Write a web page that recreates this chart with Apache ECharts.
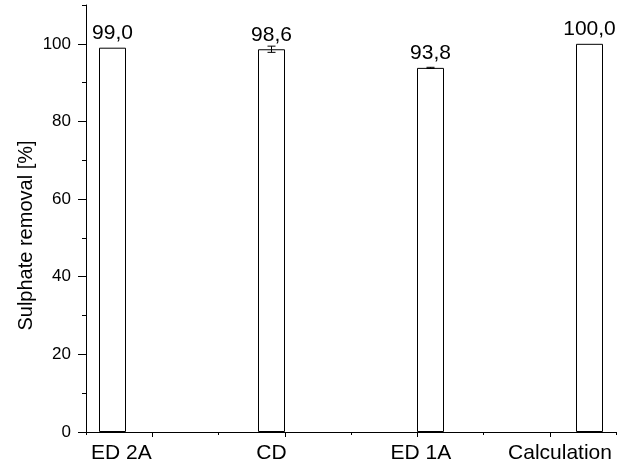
<!DOCTYPE html>
<html><head><meta charset="utf-8">
<script src="https://cdn.jsdelivr.net/npm/echarts@6/dist/echarts.min.js"></script>
<style>html,body{margin:0;padding:0;background:#fff}#c{width:624px;height:469px}</style>
</head><body><div id="c"></div>
<script>
const categories = ['ED 2A', 'CD', 'ED 1A', 'Calculation'];
const removal = [99.0, 98.6, 93.8, 100.0];
const errors = [0, 0.8, 0.15, 0];
const barX = [0.4, 2.8, 5.2, 7.6];
const labelX = [0.535, 2.8, 5.055, 7.155];
const yTicks = [0, 20, 40, 60, 80, 100];
const xMajorTicks = [1, 3, 5, 7];

const FONT = '"Liberation Sans", Arial, sans-serif';
const chart = echarts.init(document.getElementById('c'), null, {renderer: 'canvas'});

const barData = removal.map((v, i) => [barX[i], v]);
const errData = removal.map((v, i) => [barX[i], v, errors[i]]);

function catName(v) {
  const i = labelX.findIndex(x => Math.abs(x - v) < 1e-6);
  return i >= 0 ? categories[i] : '';
}

chart.setOption({
  animation: false,
  backgroundColor: '#fff',
  grid: {left: 86, right: 8, top: 5, bottom: 37, containLabel: false},
  xAxis: [
    {
      type: 'value', min: 0, max: 8, interval: 1, position: 'bottom',
      axisLine: {show: true, lineStyle: {color: '#000', width: 1}},
      axisTick: {show: true, length: 3, lineStyle: {color: '#000'}},
      axisLabel: {show: false},
      splitLine: {show: false}
    },
    {
      type: 'value', min: 0, max: 8, position: 'bottom',
      axisLine: {show: false},
      axisTick: {show: true, length: 5, customValues: xMajorTicks, lineStyle: {color: '#000'}},
      axisLabel: {show: true, customValues: labelX, formatter: catName,
        fontSize: 21, color: '#000', fontFamily: FONT, margin: 11},
      splitLine: {show: false}
    }
  ],
  yAxis: [
    {
      type: 'value', min: 0, max: 110, interval: 10, position: 'left',
      axisLine: {show: true, lineStyle: {color: '#000', width: 1}},
      axisTick: {show: true, length: 4, lineStyle: {color: '#000'}},
      axisLabel: {show: false},
      splitLine: {show: false}
    },
    {
      type: 'value', min: 0, max: 110, position: 'left',
      axisLine: {show: false},
      axisTick: {show: true, length: 8, customValues: yTicks, lineStyle: {color: '#000'}},
      axisLabel: {show: true, customValues: yTicks, fontSize: 17, color: '#000', fontFamily: FONT, margin: 15},
      splitLine: {show: false},
      name: 'Sulphate removal [%]', nameLocation: 'middle', nameGap: 50, nameMoveOverlap: false,
      nameTextStyle: {fontSize: 20, color: '#000', fontFamily: FONT, padding: [0, 34, 0, 0]}
    }
  ],
  series: [
    {
      type: 'bar', xAxisIndex: 0, yAxisIndex: 0, barWidth: 27,
      data: barData,
      itemStyle: {color: '#fff', borderColor: '#000', borderWidth: 1},
      label: {show: true, position: 'top', distance: 4, color: '#000', fontSize: 21, fontFamily: FONT,
        formatter: p => p.value[1].toFixed(1).replace('.', ',')}
    },
    {
      type: 'custom', xAxisIndex: 0, yAxisIndex: 0, z: 5,
      data: errData,
      renderItem: function (params, api) {
        const e = api.value(2);
        if (!e) return null;
        const x = api.value(0), y = api.value(1);
        const top = api.coord([x, y + e]);
        const bot = api.coord([x, y - e]);
        const hw = 4;
        const st = {stroke: '#000', lineWidth: 1};
        return {type: 'group', children: [
          {type: 'line', shape: {x1: top[0], y1: top[1], x2: bot[0], y2: bot[1]}, style: st},
          {type: 'line', shape: {x1: top[0] - hw, y1: top[1], x2: top[0] + hw, y2: top[1]}, style: st},
          {type: 'line', shape: {x1: bot[0] - hw, y1: bot[1], x2: bot[0] + hw, y2: bot[1]}, style: st}
        ]};
      }
    }
  ]
});
</script></body></html>
